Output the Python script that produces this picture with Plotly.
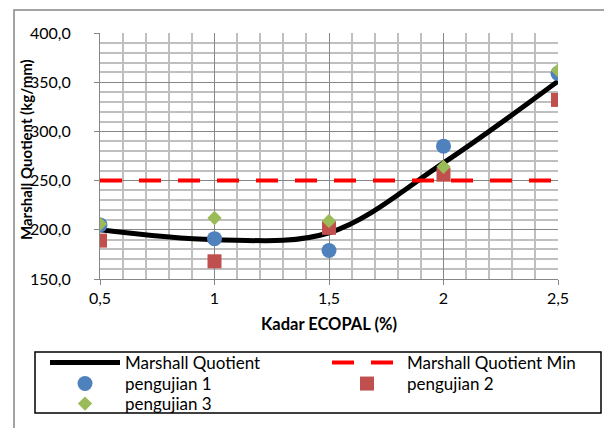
import plotly.graph_objects as go

x_vals = [0.5, 1.0, 1.5, 2.0, 2.5]
marshall_quotient = [200, 190, 197, 268, 351]
mq_min = [250, 250, 250, 250, 250]
pengujian_1 = [205, 191, 179, 285, 359]
pengujian_2 = [189, 168, 202, 256, 332]
pengujian_3 = [206, 212, 209, 264, 362]

FONT = "Lato"
W, H = 604, 428
L, R, T, B = 100, 46, 33, 149
pw, ph = W - L - R, H - T - B

def px(x):
    return (x - L) / pw

def py(y):
    return (H - B - y) / ph

fig = go.Figure()
fig.add_trace(go.Scatter(x=x_vals, y=marshall_quotient, mode="lines", name="Marshall Quotient",
                         legend="legend",
                         line=dict(color="black", width=5, shape="spline", smoothing=1.0)))
fig.add_trace(go.Scatter(x=x_vals, y=mq_min, mode="lines", name="Marshall Quotient Min",
                         legend="legend2",
                         line=dict(color="#FF0000", width=4, dash="22px,17px")))
fig.add_trace(go.Scatter(x=x_vals, y=pengujian_1, mode="markers", name="pengujian 1",
                         legend="legend3",
                         marker=dict(symbol="circle", size=15, color="#4F81BD")))
fig.add_trace(go.Scatter(x=x_vals, y=pengujian_2, mode="markers", name="pengujian 2",
                         legend="legend4",
                         marker=dict(symbol="square", size=14, color="#C0504D")))
fig.add_trace(go.Scatter(x=x_vals, y=pengujian_3, mode="markers", name="pengujian 3",
                         legend="legend5",
                         marker=dict(symbol="diamond", size=11, color="#9BBB59")))

def leg(xpix, ypix):
    return dict(orientation="v", x=px(xpix), y=py(ypix), xanchor="left", yanchor="middle",
                itemwidth=70, font=dict(family=FONT, size=17, color="black"),
                bgcolor="rgba(0,0,0,0)", borderwidth=0)

col1, col2 = 45, 327
rows = [363, 384, 404]

fig.update_layout(
    width=W, height=H,
    margin=dict(l=L, r=R, t=T, b=B, autoexpand=False),
    paper_bgcolor="white", plot_bgcolor="white",
    separators=",.",
    font=dict(family=FONT, size=16, color="black"),
    showlegend=True,
    legend=leg(col1, rows[0]),
    legend2=leg(col2, rows[0]),
    legend3=leg(col1, rows[1]),
    legend4=leg(col2, rows[1]),
    legend5=leg(col1, rows[2]),
    xaxis=dict(range=[0.5, 2.5], dtick=0.5, tick0=0.5, showgrid=True, gridcolor="#878787", gridwidth=1,
               minor=dict(dtick=0.1, showgrid=True, gridcolor="#BFBFBF", gridwidth=1.5),
               ticks="outside", ticklen=5, tickcolor="#878787", showline=True, linecolor="#878787",
               mirror=False, zeroline=False, ticklabelstandoff=0,
               tickfont=dict(family=FONT, size=16),
               title=dict(text="<b>Kadar ECOPAL (%)</b>", font=dict(family=FONT, size=16.5), standoff=12)),
    yaxis=dict(range=[150, 400], dtick=50, tick0=150, tickformat=".1f", showgrid=True, gridcolor="#878787", gridwidth=1,
               minor=dict(dtick=10, showgrid=True, gridcolor="#BFBFBF", gridwidth=1.5),
               ticks="outside", ticklen=5, tickcolor="#878787", showline=True, linecolor="#878787",
               zeroline=False, ticklabelstandoff=20,
               tickfont=dict(family=FONT, size=16)),
    annotations=[
        dict(text="<b>Marshall Quotient (kg/mm)</b>", xref="paper", yref="paper",
             x=px(26), y=py(150), xanchor="center", yanchor="middle", textangle=-90,
             showarrow=False, font=dict(family=FONT, size=15, color="black")),
    ],
    shapes=[
        dict(type="rect", xref="paper", yref="paper", x0=px(14), x1=px(620), y0=py(450), y1=py(10),
             line=dict(color="#878787", width=1.5), layer="below"),
        dict(type="rect", xref="paper", yref="paper", x0=px(35), x1=px(601), y0=py(413), y1=py(352),
             line=dict(color="black", width=1.5), layer="below"),
    ],
)

fig.write_html("out.html", config={"displayModeBar": False},
               post_script="document.body.style.margin='0';")
